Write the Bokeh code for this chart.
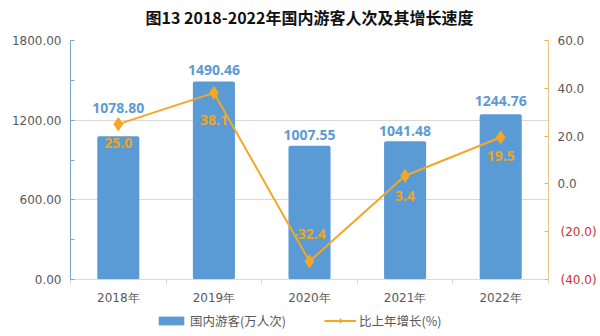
from bokeh.plotting import figure
from bokeh.models import (ColumnDataSource, Range1d, LinearAxis, FixedTicker, LabelSet,
                          Legend, LegendItem, Span)
from bokeh.core.properties import value
from bokeh.layouts import column
from bokeh.embed import file_html
from bokeh.resources import INLINE

# ---- data ----
years = ["2018年", "2019年", "2020年", "2021年", "2022年"]
tourists = [1078.80, 1490.46, 1007.55, 1041.48, 1244.76]
growth = [25.0, 38.1, -32.4, 3.4, 19.5]
tourists_text = ["1078.80", "1490.46", "1007.55", "1041.48", "1244.76"]
growth_text = ["25.0", "38.1", "-32.4", "3.4", "19.5"]
left_ticks = [0, 600, 1200, 1800]
left_minor = [300, 900, 1500]
right_ticks = [-40, -20, 0, 20, 40, 60]
title_text = "图13 2018-2022年国内游客人次及其增长速度"
bar_name = "国内游客(万人次)"
line_name = "比上年增长(%)"

# ---- styles ----
bar_label_dy = [28, 12, 11, 10, 13]
line_label_dy = [-19, -27, 27, -20, -19]
BLUE = "#5B9BD5"
ORANGE = "#F5A623"
LABEL_ORANGE = "#F0A520"
GRAY_TXT = "#595959"
GRID = "#D9D9D9"
RED = "#D0312D"
GOLD = "#F2B632"
FONT = "DejaVu Sans"
BOLD_FONT = "Open Sans"
CJK = "Noto Sans CJK SC"


def strip(height):
    f = figure(width=600, height=height, output_backend="svg", toolbar_location=None,
               x_range=Range1d(0, 1), y_range=Range1d(0, 1), title=None,
               x_axis_type=None, y_axis_type=None,
               min_border_left=0, min_border_right=0, min_border_top=0, min_border_bottom=0)
    f.outline_line_color = None
    f.grid.visible = False
    return f


# ---- title strip ----
head = strip(32)
head.text(x=[0.5], y=[0.5], text=[title_text], text_align="center", text_baseline="middle",
          text_font=value(CJK), text_font_size=value("16px"), text_font_style="bold",
          text_color="#111111")

# ---- main chart ----
xs = [i + 1 for i in range(len(years))]
src = ColumnDataSource(dict(x=xs, t=tourists, g=growth, tt=tourists_text, gt=growth_text,
                            bdy=bar_label_dy, ldy=line_label_dy))

p = figure(width=600, height=275, output_backend="svg", toolbar_location=None, title=None,
           x_range=Range1d(0.5, 5.5), y_range=Range1d(0, 1800),
           min_border_left=70, min_border_right=52, min_border_top=8, min_border_bottom=27)
p.extra_y_ranges = {"pct": Range1d(-40, 60)}
p.outline_line_color = None
p.background_fill_color = "white"
p.border_fill_color = "white"

# grid
p.xgrid.visible = False
p.ygrid.grid_line_color = GRID
p.ygrid.ticker = FixedTicker(ticks=left_ticks)

# left axis
ya = p.yaxis[0]
ya.ticker = FixedTicker(ticks=left_ticks, minor_ticks=left_minor)
ya.major_label_overrides = {v: f"{v:.2f}" for v in left_ticks}
ya.axis_line_color = "#7BA5CD"
ya.major_tick_line_color = "#7BA5CD"
ya.minor_tick_line_color = "#7BA5CD"
ya.major_tick_in = 4
ya.major_tick_out = 0
ya.minor_tick_in = 4
ya.minor_tick_out = 0
ya.major_label_standoff = 9
ya.major_label_text_font = FONT
ya.major_label_text_font_size = "12px"
ya.major_label_text_color = GRAY_TXT

# bottom axis
xa = p.xaxis[0]
xa.ticker = FixedTicker(ticks=xs, minor_ticks=[x - 0.5 for x in xs] + [xs[-1] + 0.5])
xa.major_label_overrides = {x: y for x, y in zip(xs, years)}
xa.axis_line_color = GRID
xa.major_tick_line_color = None
xa.major_tick_in = 0
xa.major_tick_out = 0
xa.minor_tick_line_color = GRID
xa.minor_tick_in = 0
xa.minor_tick_out = 5
xa.major_label_standoff = 6
xa.major_label_text_font = FONT
xa.major_label_text_font_size = "12px"
xa.major_label_text_color = GRAY_TXT

# right axis (non-negative labels, gray)
ra = LinearAxis(y_range_name="pct")
ra.ticker = FixedTicker(ticks=right_ticks)
ra.major_label_overrides = {v: (f"{v:.1f}" if v >= 0 else "") for v in right_ticks}
ra.axis_line_color = GOLD
ra.major_tick_line_color = GOLD
ra.major_tick_in = 4
ra.major_tick_out = 0
ra.minor_tick_line_color = None
ra.major_label_standoff = 9
ra.major_label_text_font = FONT
ra.major_label_text_font_size = "12px"
ra.major_label_text_color = GRAY_TXT
p.add_layout(ra, "right")

# right axis (negative labels, red, in parentheses), pulled back over the first one
rb = LinearAxis(y_range_name="pct")
rb.ticker = FixedTicker(ticks=right_ticks)
rb.major_label_overrides = {v: (f"({abs(v):.1f})" if v < 0 else "") for v in right_ticks}
rb.axis_line_color = None
rb.major_tick_line_color = None
rb.minor_tick_line_color = None
rb.major_tick_in = 0
rb.major_tick_out = 0
rb.major_label_standoff = -27
rb.major_label_text_font = FONT
rb.major_label_text_font_size = "12px"
rb.major_label_text_color = RED
p.add_layout(rb, "right")

p.add_layout(Span(location=5.5, dimension="height", line_color=GRID, line_width=1))

# bars
bars = p.vbar(x="x", top="t", width=0.44, source=src, fill_color=BLUE, line_color=None,
              border_radius=2)

# line
ln = p.line(x="x", y="g", source=src, y_range_name="pct", line_color=ORANGE, line_width=2)
mk = p.scatter(x="x", y="g", source=src, y_range_name="pct", marker="diamond", size=13,
               fill_color=ORANGE, line_color=ORANGE)

# labels
p.add_layout(LabelSet(x="x", y="t", text="tt", source=src, y_offset="bdy",
                      text_align="center", text_baseline="middle", text_font=value(BOLD_FONT),
                      text_font_size=value("14px"), text_font_style="bold", text_color=BLUE))
p.add_layout(LabelSet(x="x", y="g", text="gt", source=src, y_range_name="pct", y_offset="ldy",
                      text_align="center", text_baseline="middle", text_font=value(BOLD_FONT),
                      text_font_size=value("14px"), text_font_style="bold",
                      text_color=LABEL_ORANGE))

# ---- legend strip (legend proxies drawn off-range) ----
lg = strip(29)
proxy = ColumnDataSource(dict(x=[-10], y=[-10], t=[-10]))
pb = lg.vbar(x="x", top="t", width=0.1, source=proxy, fill_color=BLUE, line_color=None,
             border_radius=2)
pl = lg.line(x="x", y="y", source=proxy, line_color=ORANGE, line_width=2)
pm = lg.scatter(x="x", y="y", source=proxy, marker="diamond", size=12,
                fill_color=ORANGE, line_color=ORANGE)
legend = Legend(items=[LegendItem(label=bar_name, renderers=[pb], index=0),
                       LegendItem(label=line_name, renderers=[pl, pm], index=0)],
                orientation="horizontal", location=(85, 6),
                glyph_width=32, glyph_height=11, spacing=38, padding=0, margin=0,
                label_standoff=3, label_text_font=CJK, label_text_font_size="12.5px",
                label_text_color=GRAY_TXT, background_fill_alpha=0, border_line_color=None)
lg.add_layout(legend, "center")

layout = column(head, p, lg, spacing=0)
open("out.html", "w").write(file_html(layout, INLINE))
